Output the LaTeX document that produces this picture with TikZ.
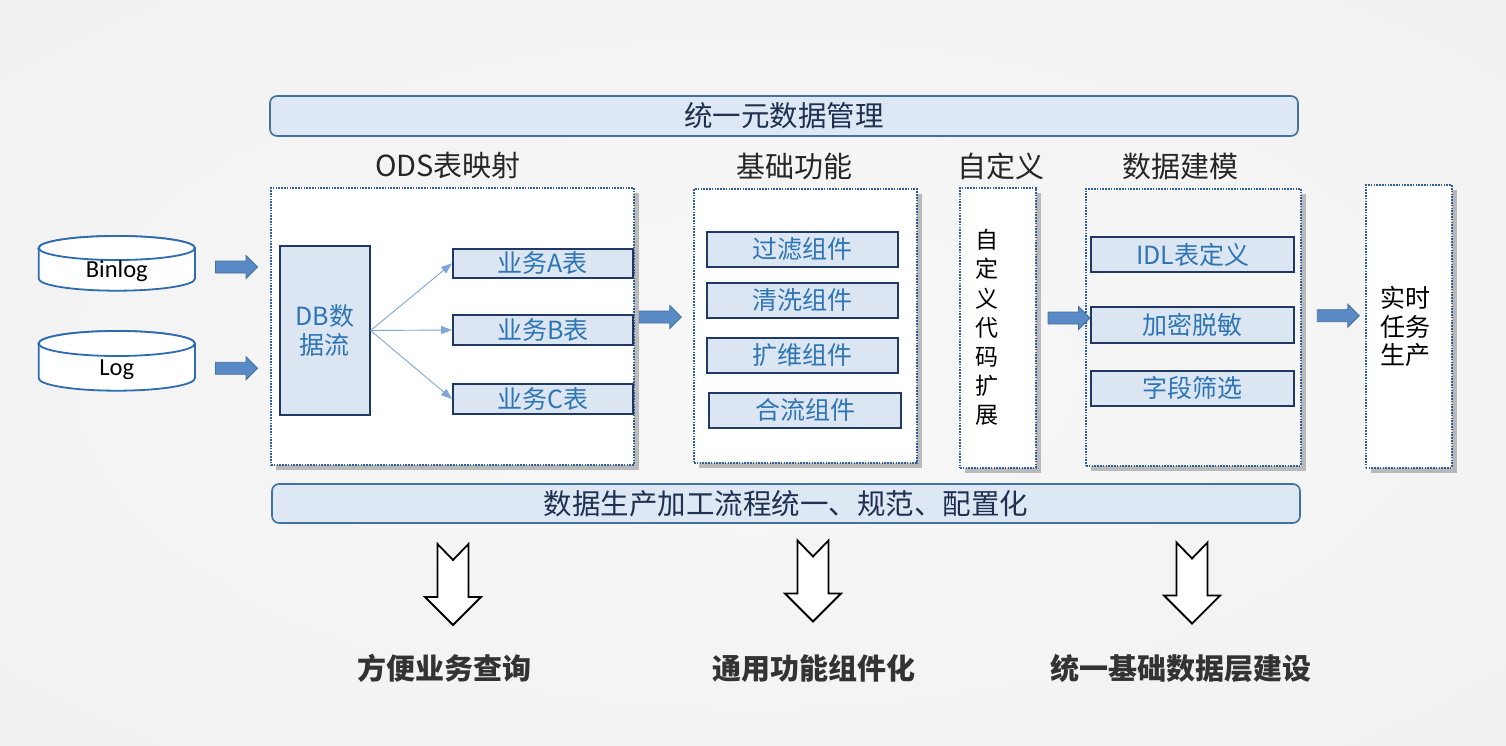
\documentclass[tikz,border=0pt]{standalone}
\usepackage{fontspec}
\setmainfont{Carlito}
\newfontfamily\cjk{Noto Sans CJK SC}
\usetikzlibrary{shadows,arrows.meta}
\definecolor{navy}{HTML}{1F3864}
\definecolor{itemfill}{HTML}{DCE6F2}
\definecolor{itemtext}{HTML}{2E75B6}
\definecolor{dotblue}{HTML}{2F5F9F}
\definecolor{barfill}{HTML}{DEE8F4}
\definecolor{bardraw}{HTML}{41719C}
\definecolor{bartext}{HTML}{1F3050}
\definecolor{titletext}{HTML}{262626}
\definecolor{arrfill}{HTML}{5A8AC6}
\definecolor{arrdraw}{HTML}{41719C}
\definecolor{cylblue}{HTML}{2E6BB0}
\definecolor{thinarr}{HTML}{7EA6D8}
\definecolor{sumtext}{HTML}{333333}
\pgfdeclareradialshading{bgshade}{\pgfpoint{0bp}{0bp}}{color(0bp)=(white!97!black); color(30bp)=(white!95!black); color(72bp)=(white!88!black)}
\tikzset{
  item/.style={draw=navy, line width=2pt, fill=itemfill, text=itemtext, inner sep=0pt,
    font=\cjk\fontsize{25}{29}\selectfont},
  panel/.style={draw=dotblue, line width=2.2pt, dash pattern=on 1.6pt off 1.2pt, fill=white,
    inner sep=0pt, drop shadow={shadow xshift=5pt, shadow yshift=-5pt, opacity=0.35, fill=black!70}},
  bar/.style={draw=bardraw, line width=1.6pt, fill=barfill, rounded corners=7pt, inner sep=0pt,
    text=bartext, font=\cjk\fontsize{28.5}{32}\selectfont},
  sectitle/.style={text=titletext, font=\cjk\fontsize{29}{33}\selectfont, inner sep=0pt},
  sumtitle/.style={text=sumtext, font=\cjk\bfseries\fontsize{29}{33}\selectfont, inner sep=0pt},
  cyl/.style={draw=cylblue, line width=1.8pt, fill=white},
  thin/.style={draw=thinarr, line width=0.9pt, -{Triangle[length=11pt,width=8pt]}},
  blockarr/.pic={\filldraw[fill=arrfill, draw=arrdraw, line width=0.8pt]
    (0,-6) -- (30.5,-6) -- (30.5,-11.5) -- (42,0) -- (30.5,11.5) -- (30.5,6) -- (0,6) -- cycle;},
  downarr/.pic={\filldraw[fill=white, draw=black, line width=1.8pt, line join=miter]
    (-15.5,0) -- (0,16) -- (15.5,0) -- (15.5,53) -- (28,53) -- (0,81) -- (-28,53) -- (-15.5,53) -- cycle;}
}
\begin{document}
\begin{tikzpicture}[x=1pt,y=-1pt]
\useasboundingbox (0,0) rectangle (1506,746);
\shade[shading=bgshade] (0,0) rectangle (1506,746);

% top and bottom bars
\node[bar, minimum width=1028pt, minimum height=40pt] (meta) at (784,116) {统一元数据管理};
\node[bar, minimum width=1028pt, minimum height=39pt] (flow) at (786,503.5) {数据生产加工流程统一、规范、配置化};

% section titles
\node[sectitle] (t1) at (448,166) {ODS表映射};
\node[sectitle] (t2) at (794,166) {基础功能};
\node[sectitle] (t3) at (1001,166) {自定义};
\node[sectitle] (t4) at (1180,167) {数据建模};

% panels
\node[panel, minimum width=363pt, minimum height=277pt] (ods) at (452.5,326.5) {};
\node[panel, minimum width=222.7pt, minimum height=274pt] (base) at (805.3,326) {};
\node[panel, minimum width=76pt, minimum height=279.7pt] (custom) at (998,327.8) {};
\node[panel, minimum width=215pt, minimum height=276.7pt, fill=white!96!black] (model) at (1193.5,327.3) {};
\node[panel, minimum width=86pt, minimum height=282.7pt] (rt) at (1408.7,326.3) {};

% cylinders
\filldraw[cyl] (38.7,248) -- (38.7,278.7) arc[start angle=180, end angle=360, x radius=78.1pt, y radius=12pt]
  -- (194.9,248) arc[start angle=0, end angle=180, x radius=78.1pt, y radius=12pt] -- cycle;
\draw[cyl] (116.8,248) ellipse[x radius=78.1pt, y radius=12pt];
\filldraw[cyl] (38.7,343.5) -- (38.7,378.2) arc[start angle=180, end angle=360, x radius=78.1pt, y radius=12.5pt]
  -- (194.9,343.5) arc[start angle=0, end angle=180, x radius=78.1pt, y radius=12.5pt] -- cycle;
\draw[cyl] (116.8,343.5) ellipse[x radius=78.1pt, y radius=12.5pt];
\node[font=\fontsize{24.5}{28}\selectfont, inner sep=0pt] (binlog) at (116.8,271) {Binlog};
\node[font=\fontsize{24.5}{28}\selectfont, inner sep=0pt] (log) at (116.8,370) {Log};

% ODS contents
\node[item, minimum width=89.5pt, minimum height=169pt, align=center,
  font=\cjk\fontsize{25}{28.5}\selectfont] (db) at (324.8,330.5) {DB数\\据流};
\node[item, minimum width=179.5pt, minimum height=28.7pt] (ta) at (542.8,263.3) {业务A表};
\node[item, minimum width=179.5pt, minimum height=29.7pt] (tb) at (542.8,330) {业务B表};
\node[item, minimum width=179.5pt, minimum height=30pt] (tc) at (542.8,399) {业务C表};
\draw[thin] (db.east) -- (ta.west);
\draw[thin] (db.east) -- (tb.west);
\draw[thin] (db.east) -- (tc.west);

% base contents
\node[item, minimum width=191.6pt, minimum height=35.6pt] (f1) at (802.5,249.5) {过滤组件};
\node[item, minimum width=191.6pt, minimum height=35pt] (f2) at (802.5,300.2) {清洗组件};
\node[item, minimum width=191.6pt, minimum height=35pt] (f3) at (802.5,355.2) {扩维组件};
\node[item, minimum width=191.6pt, minimum height=35pt] (f4) at (805.2,410.2) {合流组件};

% custom
\node[font=\cjk\fontsize{23}{29.2}\selectfont, align=center, inner sep=0pt] (ctext) at (987,327.5)
  {自\\定\\义\\代\\码\\扩\\展};

% model contents
\node[item, minimum width=203.3pt, minimum height=34.7pt] (m1) at (1192.7,254.7) {IDL表定义};
\node[item, minimum width=203.3pt, minimum height=36pt] (m2) at (1192.7,324.7) {加密脱敏};
\node[item, minimum width=203.3pt, minimum height=35.3pt] (m3) at (1192.7,388.4) {字段筛选};

% realtime
\node[font=\cjk\fontsize{25}{28.4}\selectfont, align=center, inner sep=0pt] (rttext) at (1405,326.7)
  {实时\\任务\\生产};

% block arrows
\pic (a1) at (215.5,267) {blockarr};
\pic (a2) at (215.5,368.3) {blockarr};
\pic (a3) at (639.3,317) {blockarr};
\pic (a4) at (1048,318) {blockarr};
\pic (a5) at (1317.3,315.7) {blockarr};

% down arrows
\pic (d1) at (453,544) {downarr};
\pic (d2) at (813,540.5) {downarr};
\pic (d3) at (1192,542.5) {downarr};

% summaries
\node[sumtitle] (s1) at (444,668) {方便业务查询};
\node[sumtitle] (s2) at (814,668) {通用功能组件化};
\node[sumtitle] (s3) at (1181,668) {统一基础数据层建设};
\end{tikzpicture}
\end{document}
